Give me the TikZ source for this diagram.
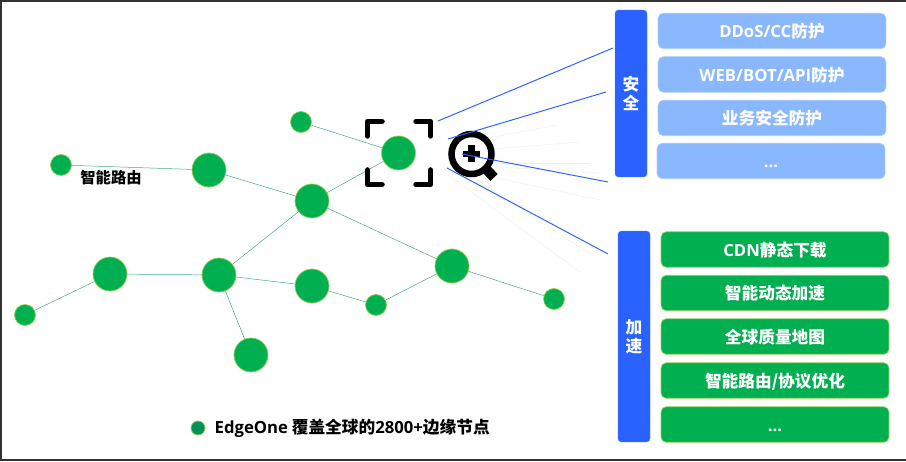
\documentclass[tikz,border=0pt]{standalone}
\usepackage{fontspec}
\setmainfont{Noto Sans CJK SC}
\newfontfamily\latfont{Open Sans}
\newcommand{\lat}[1]{{\latfont\bfseries #1}}
\usepackage{xcolor}
\usepackage{tikz}
\usetikzlibrary{arrows.meta,positioning,calc}
\definecolor{blueb}{HTML}{2962FF}
\definecolor{softb}{HTML}{8AB8FF}
\definecolor{edgeg}{HTML}{00B050}
\definecolor{rimg}{HTML}{92D050}
\definecolor{linkg}{HTML}{3FA98A}
\definecolor{legendg}{HTML}{00915A}
\begin{document}
\begin{tikzpicture}[
  x=0.02cm,y=-0.02cm,
  font=\fontsize{9.5pt}{10.8pt}\selectfont\bfseries,
  big/.style={circle,draw=rimg,fill=edgeg,line width=0.4pt,inner sep=0pt,minimum size=0.68cm},
  small/.style={big,minimum size=0.42cm},
  link/.style={draw=linkg,line width=0.28pt},
  ray/.style={draw=blueb,line width=0.55pt},
  ghost/.style={draw=black!6,line width=0.3pt},
  bar/.style={rectangle,rounded corners=2pt,draw=blueb!85!white,fill=blueb,line width=0.2pt,
              text=white,align=center,inner sep=0pt,minimum width=0.64cm},
  secbox/.style={rectangle,rounded corners=3pt,draw=softb!70!white,fill=softb,line width=0.4pt,
              text=white,inner sep=0pt,minimum width=4.56cm,minimum height=0.71cm,
              text height=0.75em,text depth=0pt},
  accbox/.style={secbox,draw=rimg,fill=edgeg},
  corner/.style={draw=black,line width=0.11cm,line cap=round,line join=round}
]
\useasboundingbox (0,0) rectangle (906,462);
\draw[draw=black!80,line width=0.8pt] (906,1) -- (1,1) -- (1,460) -- (906,460);

% edge nodes
\node[small] (a) at (61,165)  {};
\node[big]   (b) at (209,170) {};
\node[big]   (c) at (312,201) {};
\node[big]   (d) at (398.5,153) {};
\node[small] (e) at (301,122) {};
\node[big]   (f) at (110,274) {};
\node[big]   (g) at (219,275) {};
\node[big]   (h) at (312,286) {};
\node[small] (i) at (376,305) {};
\node[big]   (j) at (452,266) {};
\node[small] (k) at (554,299) {};
\node[small] (l) at (25,315)  {};
\node[big]   (m) at (251,355) {};

\foreach \p/\q in {a/b,b/c,c/d,e/d,c/g,c/j,g/f,f/l,g/h,g/m,h/i,i/j,j/k}
  \draw[link] (\p) -- (\q);

\node[font=\fontsize{8.7pt}{10.8pt}\selectfont\bfseries] (routelbl) at (111,178) {智能路由};

% focus marks
\draw[corner] (367.5,136) -- (367.5,121.5) -- (382,121.5);
\draw[corner] (416,121.5) -- (430.5,121.5) -- (430.5,136);
\draw[corner] (367.5,170) -- (367.5,184.5) -- (382,184.5);
\draw[corner] (416,184.5) -- (430.5,184.5) -- (430.5,170);

% faint traces
\foreach \xa/\ya/\xb/\yb in {478/140/557/125,493/149/580/142,497/163/590/163,497/167/597/173,
    497/178/600/200,473/177/593/256,448/175/580/272}
  \draw[ghost] (\xa,\ya) -- (\xb,\yb);

% magnifier
\node[circle,draw=black,line width=0.13cm,inner sep=0pt,minimum size=0.8cm] (zoom) at (471.5,154) {};
\coordinate (hs) at (487,170);
\coordinate (he) at (494,177.5);
\draw[black,line width=0.2cm] (hs) -- (he);
\draw[black,line width=0.13cm] (463,154) -- (480,154);
\draw[black,line width=0.13cm] (471.5,145.5) -- (471.5,162.5);

% side bars
\node[bar,minimum height=3.34cm] (sec) at (631,93.5)  {安\\全};
\node[bar,minimum height=4.22cm] (acc) at (634,336.5) {加\\速};

% rays
\coordinate (r1) at (438,121);
\coordinate (r2) at (448,139);
\coordinate (r3) at (462,154);
\coordinate (r4) at (447,168);
\coordinate (t1) at (613,48);
\coordinate (t2) at (606,92);
\coordinate (t3) at (608,182);
\coordinate (t4) at (608,254);
\foreach \n in {1,2,3,4}
  \draw[ray] (r\n) -- (t\n);

% boxes
\node[secbox] (s1) at (772,31)    {\lat{DDoS/CC}防护};
\node[secbox] (s2) at (772,74.5)  {\lat{WEB/BOT/API}防护};
\node[secbox] (s3) at (772,118)   {业务安全防护};
\node[secbox] (s4) at (771,161)   {\lat{...}};
\node[accbox] (a1) at (775,249.5) {\lat{CDN}静态下载};
\node[accbox] (a2) at (775,293)   {智能动态加速};
\node[accbox] (a3) at (775,336.5) {全球质量地图};
\node[accbox] (a4) at (775,380.5) {智能路由/协议优化};
\node[accbox] (a5) at (775,424.5) {\lat{...}};

% legend
\node[circle,draw=rimg,fill=legendg,line width=0.4pt,inner sep=0pt,minimum size=0.28cm] (dot) at (198,428) {};
\node[right=0.18cm of dot,inner sep=0pt] (legend) {\lat{EdgeOne} 覆盖全球的\lat{2800+}边缘节点};
\end{tikzpicture}
\end{document}
